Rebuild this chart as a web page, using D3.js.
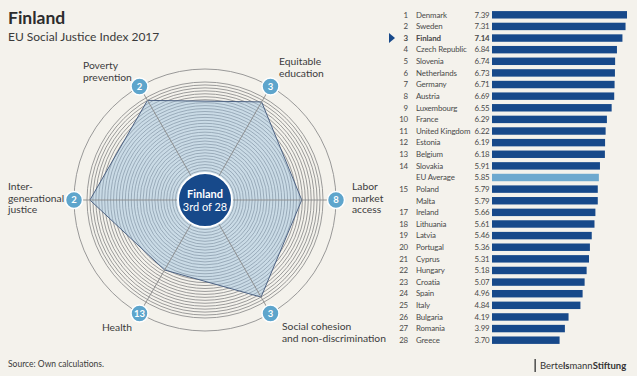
<!DOCTYPE html>
<html lang="en">
<head>
  <meta charset="UTF-8">
  <title>Finland - EU Social Justice Index 2017</title>
  <script src="https://d3js.org/d3.v7.min.js"></script>
  <style>
    body, html {
      margin: 0;
      padding: 0;
      background: #f4f2ec;
    }
    svg {
      display: block;
      font-family: Lato, "Open Sans", sans-serif;
    }
    .lbl {
      font-size: 10.3px;
      fill: #3c3c3c;
    }
    .bar-txt {
      font-size: 7.9px;
      letter-spacing: -0.15px;
      fill: #4a4a4a;
    }
  </style>
</head>
<body>
  <svg width="637" height="376"></svg>

  <script>
    // radar: Finland's dimension scores and ranks
    const dimensions = ["Poverty prevention", "Equitable education", "Labor market access",
      "Social cohesion and non-discrimination", "Health", "Intergenerational justice"];
    const dimScores = [9.75, 9.6, 8.2, 9.5, 6.85, 9.75];
    const dimRanks = [2, 3, 8, 3, 13, 2];

    // ranking
    const countries = ["Denmark", "Sweden", "Finland", "Czech Republic", "Slovenia", "Netherlands",
      "Germany", "Austria", "Luxembourg", "France", "United Kingdom", "Estonia", "Belgium", "Slovakia",
      "EU Average", "Poland", "Malta", "Ireland", "Lithuania", "Latvia", "Portugal", "Cyprus",
      "Hungary", "Croatia", "Spain", "Italy", "Bulgaria", "Romania", "Greece"];
    const scores = [7.39, 7.31, 7.14, 6.84, 6.74, 6.73, 6.71, 6.69, 6.55, 6.29, 6.22, 6.19, 6.18, 5.91,
      5.85, 5.79, 5.79, 5.66, 5.61, 5.46, 5.36, 5.31, 5.18, 5.07, 4.96, 4.84, 4.19, 3.99, 3.70];
    const ranks = ["1", "2", "3", "4", "5", "6", "7", "8", "9", "10", "11", "12", "13", "14",
      "", "15", "", "17", "18", "19", "20", "21", "22", "23", "24", "25", "26", "27", "28"];

    const svg = d3.select("svg");
    const darkBlue = "#17498a";
    const lightBlue = "#5ea5cc";

    // titles
    svg.append("text").attr("x", 8).attr("y", 24)
      .style("font-size", "17.5px").style("font-weight", "bold").attr("fill", "#2c2c2c")
      .text("Finland");
    svg.append("text").attr("x", 8).attr("y", 41)
      .style("font-size", "12px").attr("fill", "#3a3a3a")
      .text("EU Social Justice Index 2017");
    svg.append("text").attr("x", 8).attr("y", 367)
      .style("font-size", "8.5px").attr("fill", "#3a3a3a")
      .text("Source: Own calculations.");

    // ---- radar ----
    const cx = 205, cy = 200;
    const r = d3.scaleLinear().domain([0, 10]).range([0, 118]);
    const outerR = 131;
    const angle = d3.scalePoint().domain(dimensions).range([-Math.PI / 6, Math.PI * 3 / 2]);

    const radar = svg.append("g").attr("transform", `translate(${cx},${cy})`);

    radar.append("circle").attr("r", outerR)
      .attr("fill", "none").attr("stroke", "#8f8f8f").attr("stroke-width", 0.9);

    radar.selectAll(".ring")
      .data(d3.range(1, 41).map(d => d / 4))
      .enter().append("circle")
      .attr("class", "ring")
      .attr("r", d => r(d))
      .attr("fill", "none")
      .attr("stroke", "#8a8a8a")
      .attr("stroke-width", 0.85);

    const line = d3.lineRadial()
      .angle((d, i) => angle(dimensions[i]))
      .radius(d => r(d))
      .curve(d3.curveLinearClosed);

    radar.append("path")
      .attr("d", line(dimScores))
      .attr("fill", "rgba(150,190,225,0.45)")
      .attr("stroke", "#4d6283")
      .attr("stroke-width", 1);

    const pt = (a, rad) => [rad * Math.sin(a), -rad * Math.cos(a)];

    radar.selectAll(".axis")
      .data(dimensions)
      .enter().append("line")
      .attr("x1", 0).attr("y1", 0)
      .attr("x2", d => pt(angle(d), outerR)[0])
      .attr("y2", d => pt(angle(d), outerR)[1])
      .attr("stroke", "#8a8a8a")
      .attr("stroke-width", 0.9);

    radar.append("circle").attr("r", 27)
      .attr("fill", darkBlue).attr("stroke", "#fff").attr("stroke-width", 2);
    radar.append("text").attr("y", -2).attr("text-anchor", "middle")
      .attr("fill", "#fff").style("font-size", "11px").style("font-weight", "bold")
      .text("Finland");
    radar.append("text").attr("y", 11).attr("text-anchor", "middle")
      .attr("fill", "#fff").style("font-size", "11px")
      .text("3rd of 28");

    const marks = radar.selectAll(".mark")
      .data(dimensions)
      .enter().append("g")
      .attr("transform", d => `translate(${pt(angle(d), outerR)})`);
    marks.append("circle").attr("r", 8.5)
      .attr("fill", lightBlue).attr("stroke", "#fff").attr("stroke-width", 1.5);
    marks.append("text").attr("text-anchor", "middle").attr("dy", "0.35em")
      .attr("fill", "#fff").style("font-size", "9.5px").style("font-weight", "bold")
      .text((d, i) => dimRanks[i]);

    // dimension labels
    const labels = [
      { x: 83, y: 69, anchor: "start", lines: ["Poverty", "prevention"] },
      { x: 279, y: 65, anchor: "start", lines: ["Equitable", "education"] },
      { x: 352, y: 190, anchor: "start", lines: ["Labor", "market", "access"] },
      { x: 282, y: 330, anchor: "start", lines: ["Social cohesion", "and non-discrimination"] },
      { x: 132, y: 331, anchor: "end", lines: ["Health"] },
      { x: 8, y: 190, anchor: "start", lines: ["Inter-", "generational", "justice"] }
    ];
    labels.forEach(l => {
      const t = svg.append("text").attr("class", "lbl")
        .attr("x", l.x).attr("y", l.y).attr("text-anchor", l.anchor);
      l.lines.forEach((s, i) => t.append("tspan").attr("x", l.x).attr("dy", i ? 11.5 : 0).text(s));
    });

    // ---- ranking bars ----
    const x = d3.scaleLinear().domain([0, 7.39]).range([492, 627]);
    const y = d3.scaleBand().domain(countries).range([9, 346]).paddingInner(0.36).paddingOuter(0.18);

    const rows = svg.selectAll(".row")
      .data(countries)
      .enter().append("g")
      .attr("class", "row");

    rows.append("rect")
      .attr("x", x(0))
      .attr("y", d => y(d))
      .attr("width", (d, i) => x(scores[i]) - x(0))
      .attr("height", y.bandwidth())
      .attr("fill", d => d === "EU Average" ? "#6ea9cf" : darkBlue);

    const mid = d => y(d) + y.bandwidth() / 2;
    const txtFill = d => d === "EU Average" ? lightBlue : d === "Finland" ? "#1d3f78" : "#4a4a4a";
    const txtWeight = d => d === "Finland" ? "bold" : "normal";

    rows.append("text").attr("class", "bar-txt")
      .attr("x", 408).attr("y", mid).attr("dy", "0.35em").attr("text-anchor", "end")
      .attr("fill", txtFill).style("font-weight", txtWeight)
      .text((d, i) => ranks[i]);
    rows.append("text").attr("class", "bar-txt")
      .attr("x", 416).attr("y", mid).attr("dy", "0.35em")
      .attr("fill", txtFill).style("font-weight", txtWeight)
      .text(d => d);
    rows.append("text").attr("class", "bar-txt")
      .attr("x", 489.5).attr("y", mid).attr("dy", "0.35em").attr("text-anchor", "end")
      .attr("fill", txtFill).style("font-weight", txtWeight)
      .text((d, i) => scores[i].toFixed(2));

    // arrow for Finland
    const fy = mid("Finland");
    svg.append("path")
      .attr("d", `M389,${fy - 5}L395,${fy}L389,${fy + 5}Z`)
      .attr("fill", darkBlue);

    // logo
    svg.append("rect").attr("x", 534.5).attr("y", 359).attr("width", 1.3).attr("height", 13)
      .attr("fill", "#333");
    const logo = svg.append("text").attr("x", 540).attr("y", 369)
      .style("font-size", "9.5px").attr("fill", "#333");
    logo.append("tspan").text("Berte");
    logo.append("tspan").style("font-weight", "bold").text("ls");
    logo.append("tspan").text("mann");
    logo.append("tspan").style("font-weight", "bold").text("Stiftung");
  </script>
</body>
</html>
